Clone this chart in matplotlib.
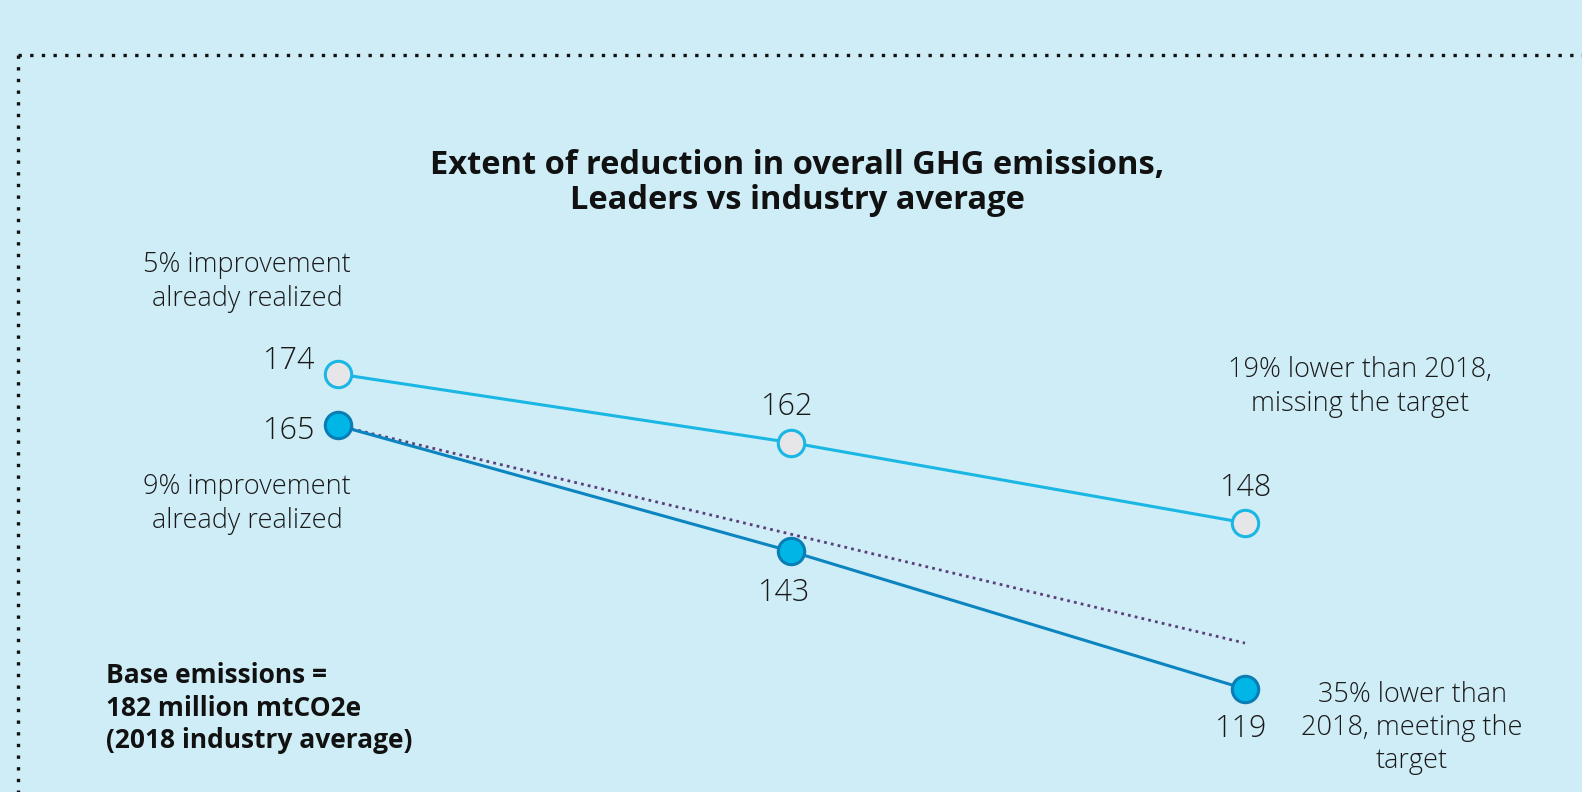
import matplotlib.pyplot as plt
from matplotlib.lines import Line2D

# data
stages = [0, 1, 2]
industry = [174, 162, 148]
leaders = [165, 143, 119]
target = [165, 127]  # 30% below the 2018 base of 182
title = "Extent of reduction in overall GHG emissions,\nLeaders vs industry average"

bg = "#cfedf7"
plt.rcParams['font.family'] = ['Open Sans', 'DejaVu Sans']

fig = plt.figure(figsize=(15.82, 7.92), dpi=100, facecolor=bg)
ax = fig.add_axes([0, 0, 1, 1])
ax.set_facecolor(bg)
ax.set_xlim(-0.745, 2.743)
ax.set_ylim(101.0, 239.3)
ax.axis('off')

# dotted frame (top and left only)
dots = dict(transform=fig.transFigure, color='#111111', lw=2.4, linestyle=(0, (1, 2.5)))
fig.add_artist(Line2D([18 / 1582, 1.0], [1 - 55 / 792] * 2, **dots))
fig.add_artist(Line2D([18 / 1582] * 2, [1 - 55 / 792, 0], **dots))

# target line
ax.plot([stages[0], stages[-1]], target, color='#5b3f7c', lw=2, linestyle=(0, (1, 1.5)), zorder=2)

ax.plot(stages, industry, color='#1ab6e4', lw=2.2, marker='o', ms=19,
        mfc='#e6e6e8', mec='#1ab6e4', mew=2.2, zorder=3)
ax.plot(stages, leaders, color='#0b84c0', lw=2.2, marker='o', ms=19,
        mfc='#00b6e6', mec='#0a7db4', mew=2.2, zorder=3)

num_kw = dict(fontsize=22, fontweight='light', color='#1a1a1a')
ax.annotate(str(industry[0]), (stages[0], industry[0]), xytext=(-16, 9),
            textcoords='offset points', ha='right', va='center', **num_kw)
ax.annotate(str(leaders[0]), (stages[0], leaders[0]), xytext=(-16, -4),
            textcoords='offset points', ha='right', va='center', **num_kw)
ax.annotate(str(industry[1]), (stages[1], industry[1]), xytext=(-3, 26),
            textcoords='offset points', ha='center', va='center', **num_kw)
ax.annotate(str(industry[2]), (stages[2], industry[2]), xytext=(1, 25),
            textcoords='offset points', ha='center', va='center', **num_kw)
ax.annotate(str(leaders[1]), (stages[1], leaders[1]), xytext=(-5, -30),
            textcoords='offset points', ha='center', va='center', **num_kw)
ax.annotate(str(leaders[2]), (stages[2], leaders[2]), xytext=(-3, -29),
            textcoords='offset points', ha='center', va='center', **num_kw)

note_kw = dict(fontsize=19.5, fontweight='light', color='#1a1a1a', ha='center',
               va='center', linespacing=1.25, transform=fig.transFigure)
fig.text(247 / 1582, 1 - 282 / 792, "5% improvement\nalready realized", **note_kw)
fig.text(247 / 1582, 1 - 504 / 792, "9% improvement\nalready realized", **note_kw)
fig.text(1360 / 1582, 1 - 387 / 792, "19% lower than 2018,\nmissing the target", **note_kw)
fig.text(1412 / 1582, 1 - 728 / 792, "35% lower than\n2018, meeting the\ntarget", **note_kw)

fig.text(106 / 1582, 1 - 708 / 792, "Base emissions =\n182 million mtCO2e\n(2018 industry average)",
         fontsize=19, fontweight='bold', color='#111111', ha='left', va='center',
         linespacing=1.25)

fig.text(797 / 1582, 1 - 183 / 792, title, fontsize=23.5, fontweight='bold',
         color='#111111', ha='center', va='center', linespacing=1.1)

fig.savefig('out.png', dpi=100, facecolor=bg)
